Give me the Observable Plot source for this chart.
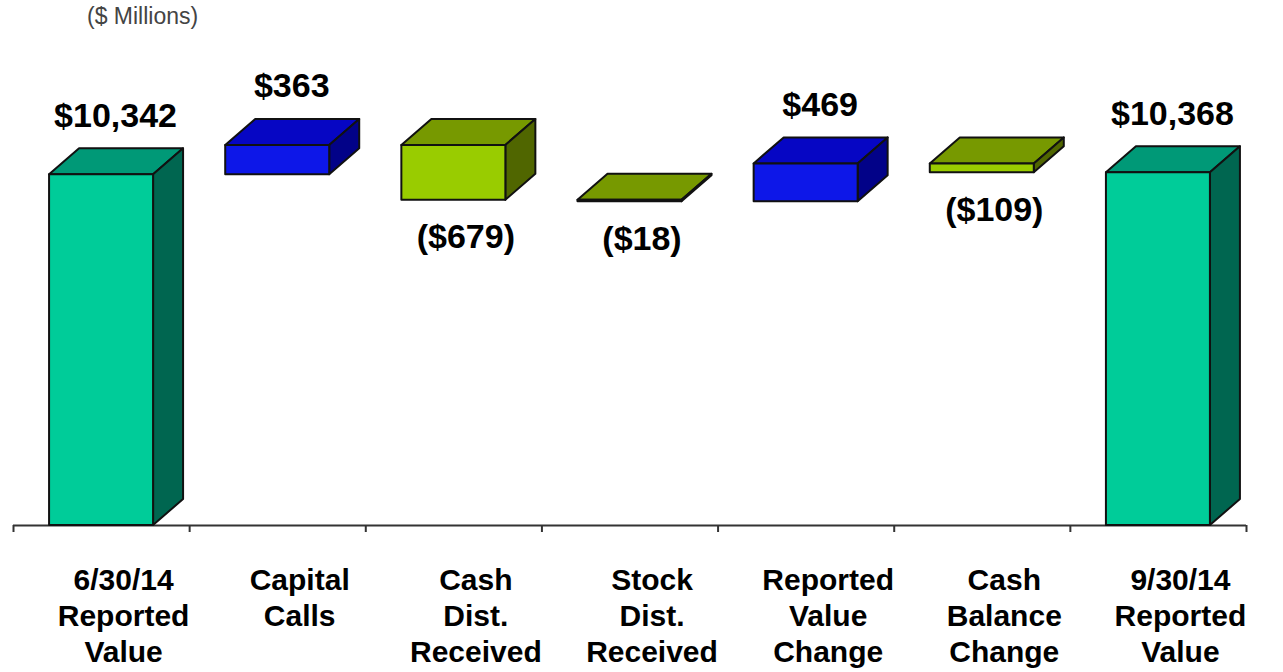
<!DOCTYPE html>
<html><head><meta charset="utf-8">
<script src="https://cdn.jsdelivr.net/npm/d3@7"></script>
<script src="https://cdn.jsdelivr.net/npm/@observablehq/plot@0.6"></script>
<style>
body{margin:0;background:#fff;font-family:"Liberation Sans",Arial,Helvetica,sans-serif;}
#wrap{position:relative;width:1283px;height:672px;overflow:hidden;}
#unit{position:absolute;left:87px;top:3px;font-size:23px;color:#444;}
svg [aria-label*="x-axis"] line, svg [aria-label*="x-axis"] path{stroke-width:2px;stroke:#333;stroke-opacity:1;}
</style></head><body>
<div id="wrap"><div id="unit">($ Millions)</div><div id="chart"></div></div>
<script>
// ---- data ----
const categories = ["6/30/14\nReported\nValue", "Capital\nCalls", "Cash\nDist.\nReceived", "Stock\nDist.\nReceived", "Reported\nValue\nChange", "Cash\nBalance\nChange", "9/30/14\nReported\nValue"];
const values = [10342, 363, -679, -18, 469, -109, 10368];
const valueLabels = ["$10,342", "$363", "($679)", "($18)", "$469", "($109)", "$10,368"];
const isTotal = [true, false, false, false, false, false, true];

// ---- styles ----
const palette = {
  total: {front: "#00cc99", top: "#009977", side: "#006650"},
  up:    {front: "#0d17e8", top: "#0606c4", side: "#020288"},
  down:  {front: "#99cc00", top: "#779900", side: "#506600"}
};
const W = 1283, H = 672, mL = 13, mR = 37, mT = 0, mB = 147;
const yMin = 6000, yMax = 12500;
const pxPerX = (W - mL - mR) / categories.length;
const pxPerY = (H - mT - mB) / (yMax - yMin);
const halfW = 52 / pxPerX;      // half width of front face (x units)
const depthX = 30 / pxPerX;     // 3D depth (x units)
const depthY = 26 / pxPerY;     // 3D depth (y units)

// ---- waterfall ----
let run = 0;
const bars = values.map((v, i) => {
  let lo, hi, kind;
  if (isTotal[i]) { lo = yMin; hi = v; run = v; kind = "total"; }
  else { const s = run; run += v; lo = Math.min(s, run); hi = Math.max(s, run); kind = v >= 0 ? "up" : "down"; }
  return {i, lo, hi, kind, v, label: valueLabels[i], cat: categories[i],
          x0: i - halfW, x1: i + halfW, fill: palette[kind].front};
});

const faces = [];
bars.forEach(b => {
  const c = palette[b.kind], d = depthX, D = depthY;
  const t = "top" + b.i, s = "side" + b.i;
  faces.push(
    {id: t, x: b.x0,     ya: b.hi,     yb: b.hi,     fill: c.top},
    {id: t, x: b.x0 + d, ya: b.hi,     yb: b.hi + D, fill: c.top},
    {id: t, x: b.x1,     ya: b.hi,     yb: b.hi + D, fill: c.top},
    {id: t, x: b.x1 + d, ya: b.hi + D, yb: b.hi + D, fill: c.top},
    {id: s, x: b.x1,     ya: b.lo,     yb: b.hi,     fill: c.side},
    {id: s, x: b.x1 + d, ya: b.lo + D, yb: b.hi + D, fill: c.side}
  );
});

const boundaries = d3.range(categories.length + 1).map(k => k - 0.5);

const chart = Plot.plot({
  width: W, height: H,
  marginLeft: mL, marginRight: mR, marginTop: mT, marginBottom: mB,
  style: {fontFamily: '"Liberation Sans", Arial, sans-serif', background: "transparent", overflow: "visible"},
  x: {domain: [-0.5, categories.length - 0.5], ticks: boundaries, tickSize: 7, tickFormat: () => "", label: null},
  y: {domain: [yMin, yMax], axis: null},
  color: {type: "identity"},
  marks: [
    Plot.ruleY([yMin], {stroke: "#333", strokeWidth: 2}),
    Plot.area(faces, {x1: "x", y1: "ya", y2: "yb", z: "id", fill: "fill", stroke: "#111", strokeWidth: 2, strokeLinejoin: "round", curve: "linear"}),
    Plot.rect(bars, {x1: "x0", x2: "x1", y1: "lo", y2: "hi", fill: "fill", stroke: "#111", strokeWidth: 2, strokeLinejoin: "round"}),
    Plot.text(bars.filter(b => b.kind !== "down"), {x: "i", y: "hi", text: "label", dx: 14, dy: -48, lineAnchor: "bottom", fontSize: 34, fontWeight: "bold", fill: "#000"}),
    Plot.text(bars.filter(b => b.kind === "down"), {x: "i", y: "lo", text: "label", dx: 12, dy: 48, lineAnchor: "bottom", fontSize: 34, fontWeight: "bold", fill: "#000"}),
    Plot.text(bars, {x: "i", y: () => yMin, text: "cat", dx: 22, dy: 39, lineAnchor: "top", lineHeight: 1.2, fontSize: 30, fontWeight: "bold", fill: "#000"})
  ]
});
document.getElementById("chart").appendChild(chart);
</script>
</body></html>
